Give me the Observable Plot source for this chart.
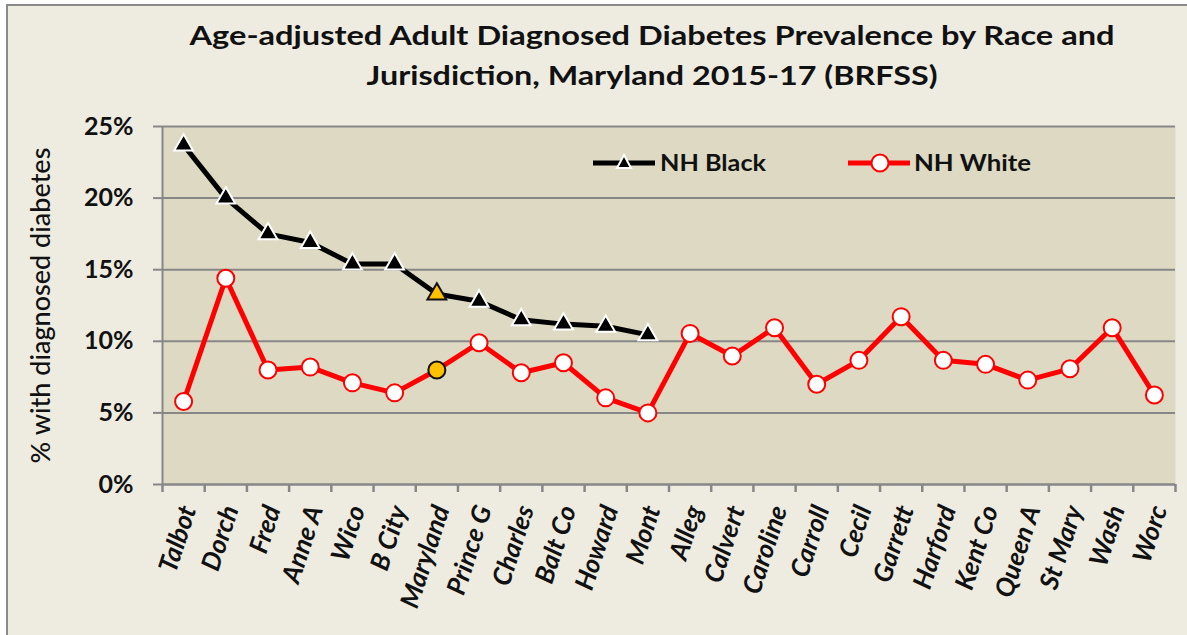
<!DOCTYPE html>
<html>
<head>
<meta charset="utf-8">
<script src="https://cdn.jsdelivr.net/npm/d3@7"></script>
<script src="https://cdn.jsdelivr.net/npm/@observablehq/plot@0.6"></script>
<style>
  html, body { margin: 0; padding: 0; background: #ffffff; width: 1187px; height: 635px; overflow: hidden; }
  #box { position: absolute; left: 6px; top: 4px; width: 1200px; height: 650px; border-left: 2px solid #8a8a8a; border-top: 2px solid #8a8a8a; background: #EEECE1; box-sizing: border-box; }
  #title { position: absolute; left: 0; top: 0; width: 1187px; height: 105px; }
  #chart { position: absolute; left: 0; top: 105px; }
  #legend { position: absolute; left: 0; top: 0; pointer-events: none; }
  text { font-family: Lato, "Open Sans", sans-serif; }
</style>
</head>
<body>
<div id="box"></div>
<svg id="title" width="1187" height="105">
  <text x="652" y="45" text-anchor="middle" font-size="27" font-weight="bold" fill="#111" textLength="925" lengthAdjust="spacingAndGlyphs">Age-adjusted Adult Diagnosed Diabetes Prevalence by Race and</text>
  <text x="652" y="85" text-anchor="middle" font-size="27" font-weight="bold" fill="#111" textLength="571" lengthAdjust="spacingAndGlyphs">Jurisdiction, Maryland 2015-17 (BRFSS)</text>
</svg>
<div id="chart"></div>
<svg id="legend" width="1187" height="635">
  <line x1="593" y1="163" x2="655" y2="163" stroke="#000" stroke-width="5"/>
  <path d="M624,155 L631,168 L617,168 Z" fill="#000" stroke="#fff" stroke-width="2"/>
  <text x="660" y="171" font-size="23" font-weight="bold" fill="#111" textLength="106" lengthAdjust="spacingAndGlyphs">NH Black</text>
  <line x1="848" y1="163" x2="910" y2="163" stroke="#ff0000" stroke-width="5"/>
  <circle cx="880" cy="163" r="8.5" fill="#fff" stroke="#ff0000" stroke-width="2"/>
  <text x="914" y="171" font-size="23" font-weight="bold" fill="#111" textLength="117" lengthAdjust="spacingAndGlyphs">NH White</text>
</svg>
<script>
const categories = ["Talbot","Dorch","Fred","Anne A","Wico","B City","Maryland","Prince G","Charles","Balt Co","Howard","Mont","Alleg","Calvert","Caroline","Carroll","Cecil","Garrett","Harford","Kent Co","Queen A","St Mary","Wash","Worc"];
const blackCategories = ["Talbot","Dorch","Fred","Anne A","Wico","B City","Maryland","Prince G","Charles","Balt Co","Howard","Mont"];
const nhBlack = [23.7, 20.0, 17.5, 16.9, 15.4, 15.4, 13.3, 12.8, 11.5, 11.2, 11.05, 10.45];
const nhWhite = [5.8, 14.4, 8.0, 8.2, 7.1, 6.4, 8.0, 9.9, 7.8, 8.5, 6.05, 5.0, 10.55, 8.97, 10.95, 7.0, 8.67, 11.72, 8.67, 8.39, 7.29, 8.08, 10.95, 6.25];
const yTicks = [0, 5, 10, 15, 20, 25];
const highlight = "Maryland";

const blackData = blackCategories.map((c, k) => ({name: c, i: categories.indexOf(c), v: nhBlack[k]}));
const whiteData = categories.map((c, k) => ({name: c, i: k, v: nhWhite[k]}));
const gold = "#FFC000";

const chart = Plot.plot({
  width: 1187,
  height: 530,
  marginTop: 21,
  marginBottom: 151,
  marginLeft: 162,
  marginRight: 12,
  style: {fontFamily: "Lato, 'Open Sans', sans-serif", background: "transparent", color: "#111"},
  x: {type: "linear", domain: [-0.5, categories.length - 0.5]},
  y: {domain: [0, 25]},
  marks: [
    Plot.frame({fill: "#DDD9C3", stroke: null}),
    Plot.gridY({ticks: yTicks.slice(1), stroke: "#878787", strokeOpacity: 1, strokeWidth: 2}),
    Plot.ruleY([0], {stroke: "#878787", strokeWidth: 2.5}),
    Plot.ruleX([-0.5], {stroke: "#878787", strokeWidth: 2}),
    Plot.axisY({ticks: yTicks, tickFormat: d => d + "%", tickSize: 9, tickPadding: 20, fontSize: 25, fontWeight: "bold", stroke: "#878787", strokeWidth: 2, label: null}),
    Plot.axisY({ticks: [], label: "% with diagnosed diabetes", labelAnchor: "center", labelArrow: "none", labelOffset: 132, fontSize: 27, fontWeight: 500}),
    Plot.axisX({ticks: d3.range(-0.5, categories.length, 1), tickFormat: () => "", tickSize: 8, stroke: "#878787", strokeWidth: 2.5, label: null}),
    Plot.axisX({ticks: d3.range(categories.length), tickFormat: i => categories[i], tickSize: 0, tickPadding: 22, tickRotate: -72, fontSize: 26, fontWeight: "bold", fontStyle: "italic", label: null, dx: 5}),
    Plot.line(whiteData, {x: "i", y: "v", stroke: "#ff0000", strokeWidth: 5}),
    Plot.line(blackData, {x: "i", y: "v", stroke: "#000000", strokeWidth: 5}),
    Plot.dot(whiteData, {x: "i", y: "v", r: 8.5, fill: d => d.name === highlight ? gold : "#ffffff", stroke: d => d.name === highlight ? "#111111" : "#ff0000", strokeWidth: 2}),
    Plot.dot(blackData, {x: "i", y: "v", r: 7, symbol: "triangle", fill: d => d.name === highlight ? gold : "#000000", stroke: d => d.name === highlight ? "#111111" : "#ffffff", strokeWidth: 2})
  ]
});
document.getElementById("chart").appendChild(chart);
</script>
</body>
</html>
